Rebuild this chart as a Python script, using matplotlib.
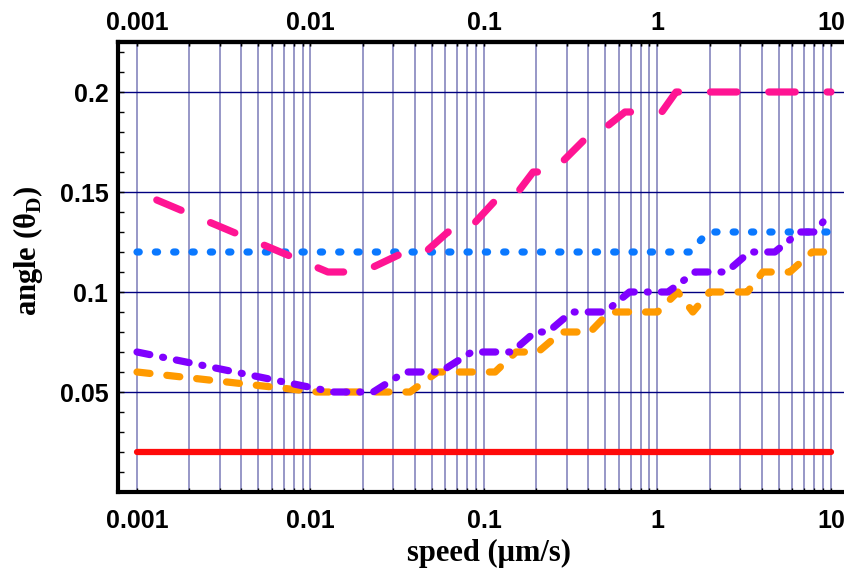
import matplotlib
matplotlib.use("Agg")
import matplotlib.pyplot as plt
from matplotlib.ticker import FixedLocator, MultipleLocator, FixedFormatter, NullFormatter

# values (speed in um/s, angle in theta_D)
speed_red = [0.001, 10]
angle_red = [0.02, 0.02]

speed_blue = [0.001, 1.54, 1.96, 10]
angle_blue = [0.12, 0.12, 0.13, 0.13]

speed_pink = [0.0013, 0.0126, 0.020, 0.035, 0.046, 0.062, 0.079, 0.129, 0.157,
              0.192, 0.247, 0.42, 0.466, 0.65, 1.06, 1.28, 10]
angle_pink = [0.146, 0.11, 0.11, 0.12, 0.12, 0.13, 0.13, 0.15, 0.15,
              0.16, 0.16, 0.18, 0.18, 0.19, 0.19, 0.20, 0.20]

speed_orange = [0.001, 0.0109, 0.0375, 0.054, 0.116, 0.153, 0.205, 0.28, 0.41, 0.53,
                1.0, 1.31, 1.6, 2.0, 3.3, 4.05, 5.8, 7.8, 10]
angle_orange = [0.06, 0.05, 0.05, 0.06, 0.06, 0.07, 0.07, 0.08, 0.08, 0.09,
                0.09, 0.10, 0.09, 0.10, 0.10, 0.11, 0.11, 0.12, 0.12]

speed_purple = [0.001, 0.0135, 0.023, 0.035, 0.056, 0.085, 0.145, 0.197, 0.234, 0.32,
                0.50, 0.69, 1.15, 1.65, 2.5, 3.4, 4.75, 6.6, 8.1, 10]
angle_purple = [0.07, 0.05, 0.05, 0.06, 0.06, 0.07, 0.07, 0.08, 0.08, 0.09,
                0.09, 0.10, 0.10, 0.11, 0.11, 0.12, 0.12, 0.13, 0.13, 0.14]

x_ticks = [0.001, 0.01, 0.1, 1, 10]
x_labels = ["0.001", "0.01", "0.1", "1", "10"]
y_ticks = [0.05, 0.1, 0.15, 0.2]
y_labels = ["0.05", "0.1", "0.15", "0.2"]

plt.rcParams["lines.scale_dashes"] = False

fig = plt.figure(figsize=(8.44, 5.69), dpi=100)
ax = fig.add_axes([118 / 844, 77 / 569, 726 / 844, 450 / 569])

ax.set_xscale("log")
ax.set_xlim(0.000777, 11.9)
ax.set_ylim(0, 0.225)

# minor grid only between 0.001 and 10, like the original
x_minor = [k * d for d in x_ticks[:-1] for k in range(2, 10)]

ax.xaxis.set_major_locator(FixedLocator(x_ticks))
ax.xaxis.set_major_formatter(FixedFormatter(x_labels))
ax.xaxis.set_minor_locator(FixedLocator(x_minor))
ax.xaxis.set_minor_formatter(NullFormatter())
ax.yaxis.set_major_locator(FixedLocator(y_ticks))
ax.yaxis.set_major_formatter(FixedFormatter(y_labels))
ax.yaxis.set_minor_locator(MultipleLocator(0.01))

ax.grid(True, axis="x", which="both", color="#7a7ab8", lw=1.1, zorder=0)
ax.grid(True, axis="y", which="major", color="#000080", lw=1.0, zorder=0)
ax.set_axisbelow(True)

common = dict(dash_capstyle="round", solid_capstyle="round", clip_on=False)
ax.plot(speed_red, angle_red, color="#ff0a0a", lw=4.5, **common)
ax.plot(speed_blue, angle_blue, color="#0a78ff", lw=5.2,
        linestyle=(0, (1.6, 11.6)), **common)
ax.plot(speed_pink, angle_pink, color="#ff1493", lw=5.2,
        linestyle=(0, (19, 23)), **common)
ax.plot(speed_orange, angle_orange, color="#ff9a00", lw=5.2,
        linestyle=(0, (9.4, 12.2)), **common)
ax.plot(speed_purple, angle_purple, color="#8000ff", lw=5.2,
        linestyle=(0, (9.4, 9.4, 0.7, 9.4)), **common)

for side in ["left", "bottom", "top"]:
    ax.spines[side].set_linewidth(3)
ax.spines["right"].set_visible(False)

ax.tick_params(axis="x", which="both", direction="in", top=True, bottom=True,
               length=3, width=1, color="black")
ax.tick_params(axis="x", which="major", pad=12)
ax.tick_params(axis="y", which="both", direction="in", right=False,
               length=4, width=1, pad=7)

# top labels on a secondary axis so they get their own padding
top = ax.secondary_xaxis("top")
top.xaxis.set_major_locator(FixedLocator(x_ticks))
top.xaxis.set_major_formatter(FixedFormatter(x_labels))
top.xaxis.set_minor_locator(FixedLocator(x_minor))
top.xaxis.set_minor_formatter(NullFormatter())
top.tick_params(axis="x", which="both", direction="in", length=3, width=1, pad=5)
top.spines["top"].set_linewidth(3)

for t in ax.xaxis.get_major_ticks() + ax.yaxis.get_major_ticks() + top.xaxis.get_major_ticks():
    for lab in (t.label1, t.label2):
        lab.set_fontfamily("Liberation Sans")
        lab.set_fontweight("bold")
        lab.set_fontsize(18)

label_font = {"family": "Liberation Serif", "weight": "bold", "size": 22}
ax.set_xlabel("speed (\u03bcm/s)", fontdict=label_font)
ax.set_ylabel("angle (\u03b8$_\\mathregular{D}$)", fontdict=label_font)
ax.xaxis.set_label_coords(0.511, -0.105)
ax.yaxis.set_label_coords(-0.100, 0.536)

fig.savefig("out.png", dpi=100)
